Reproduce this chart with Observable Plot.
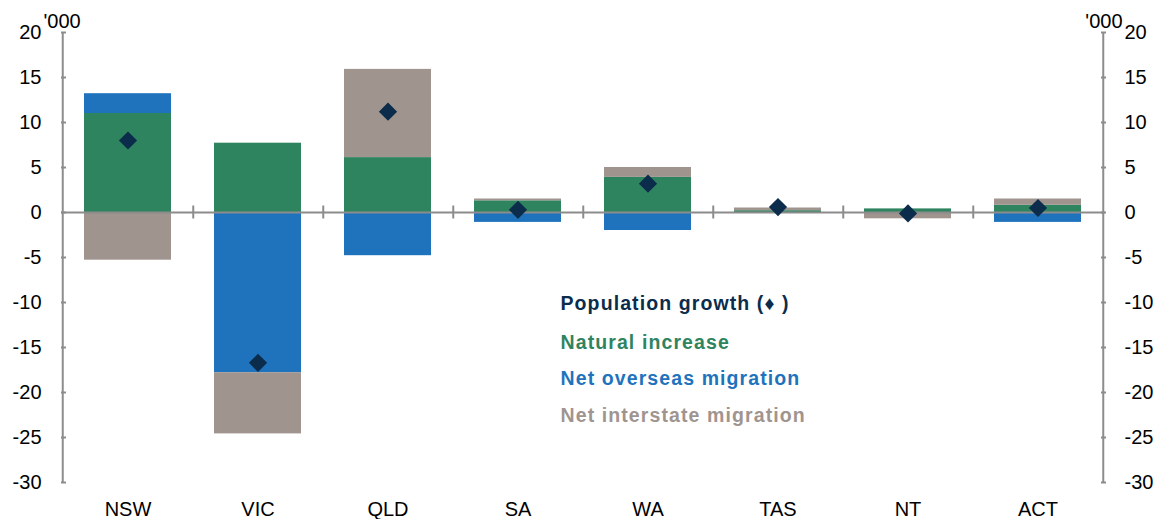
<!DOCTYPE html>
<html>
<head>
<meta charset="utf-8">
<script src="https://cdn.jsdelivr.net/npm/d3@7"></script>
<script src="https://cdn.jsdelivr.net/npm/@observablehq/plot@0.6"></script>
<style>
  html, body { margin: 0; padding: 0; background: #fff; }
  #chart svg { display: block; }
</style>
</head>
<body>
<div id="chart"></div>
<script>
const states = ["NSW", "VIC", "QLD", "SA", "WA", "TAS", "NT", "ACT"];
const naturalIncrease = [11.0, 7.7, 6.1, 1.3, 3.9, 0.2, 0.4, 0.8];
const netOverseas = [2.2, -17.8, -4.8, -1.1, -2.0, 0.0, 0.0, -1.1];
const netInterstate = [-5.3, -6.8, 9.8, 0.2, 1.1, 0.3, -0.7, 0.7];
const populationGrowth = [8.0, -16.7, 11.2, 0.3, 3.2, 0.6, -0.1, 0.5];
const yTicks = [20, 15, 10, 5, 0, -5, -10, -15, -20, -25, -30];
const seriesNames = ["Natural increase", "Net overseas migration", "Net interstate migration"];
const seriesColors = ["#2f8460", "#1f73bd", "#a0948f"];
const growthLabel = "Population growth (\u2666 )";

const rows = [];
states.forEach((s, i) => {
  rows.push({state: s, series: seriesNames[0], value: naturalIncrease[i]});
  rows.push({state: s, series: seriesNames[1], value: netOverseas[i]});
  rows.push({state: s, series: seriesNames[2], value: netInterstate[i]});
});
const growth = states.map((s, i) => ({state: s, value: populationGrowth[i]}));

const W = 1163, H = 519;
const mL = 61, mR = 58, mT = 32, mB = 37;
const step = (W - mL - mR) / states.length;
const axisColor = "#8c8c8c";
const font = "'Liberation Sans', Arial, sans-serif";
const fmt = d => String(d);

const legendText = (label, color, dy) =>
  Plot.text([label], {frameAnchor: "top-left", dx: 499, dy, lineAnchor: "middle", textAnchor: "start",
    fontSize: 19.5, fontWeight: "bold", fill: color});

const chart = Plot.plot({
  width: W,
  height: H,
  marginLeft: mL,
  marginRight: mR,
  marginTop: mT,
  marginBottom: mB,
  style: {fontFamily: font, color: "#000", background: "#fff"},
  x: {domain: states, paddingInner: 0.33, paddingOuter: 0.165, label: null},
  y: {domain: [-30, 20], label: null},
  color: {domain: seriesNames, range: seriesColors},
  marks: [
    Plot.barY(rows, {x: "state", y: "value", fill: "series", order: seriesNames}),
    // axis lines
    Plot.ruleX([states[0]], {y1: -30, y2: 20, dx: -step / 2, stroke: axisColor, strokeWidth: 2}),
    Plot.ruleX([states[states.length - 1]], {y1: -30, y2: 20, dx: step / 2, stroke: axisColor, strokeWidth: 2}),
    Plot.ruleY([0], {stroke: axisColor, strokeWidth: 2}),
    // category separators on zero line
    Plot.ruleX(states.slice(0, -1), {y1: -0.72, y2: 0.72, dx: step / 2, stroke: axisColor, strokeWidth: 2}),
    // y ticks (inward)
    Plot.axisY({anchor: "left", ticks: yTicks, tickSize: 5, dx: 5, text: null, stroke: axisColor, strokeWidth: 2}),
    Plot.axisY({anchor: "right", ticks: yTicks, tickSize: 5, dx: -5, text: null, stroke: axisColor, strokeWidth: 2}),
    Plot.axisY({anchor: "left", ticks: yTicks, tickFormat: fmt, tickSize: 0, tickPadding: 20, fontSize: 20, fill: "#000", label: null}),
    Plot.axisY({anchor: "right", ticks: yTicks, tickFormat: fmt, tickSize: 0, tickPadding: 19, fontSize: 20, fill: "#000", label: null}),
    Plot.axisX({anchor: "bottom", tickSize: 0, tickPadding: 19, fontSize: 20, fill: "#000", label: null}),
    // unit labels
    Plot.text(["'000"], {frameAnchor: "top-left", dx: -18, dy: -11, lineAnchor: "middle", textAnchor: "start", fontSize: 20, fill: "#000"}),
    Plot.text(["'000"], {frameAnchor: "top-right", dx: 17, dy: -11, lineAnchor: "middle", textAnchor: "end", fontSize: 20, fill: "#000"}),
    // population growth diamonds
    Plot.dot(growth, {x: "state", y: "value", symbol: "diamond2", r: 8.2, fill: "#0b2c4a", stroke: "none"}),
    // legend
    legendText(growthLabel, "#0b2d4d", 271),
    legendText(seriesNames[0], seriesColors[0], 310),
    legendText(seriesNames[1], seriesColors[1], 346),
    legendText(seriesNames[2], seriesColors[2], 383)
  ]
});
const legendLabels = new Set([growthLabel, ...seriesNames]);
d3.select(chart).selectAll("text").filter(function() { return legendLabels.has(this.textContent); })
  .style("letter-spacing", "1.1px");
document.getElementById("chart").appendChild(chart);
</script>
</body>
</html>
